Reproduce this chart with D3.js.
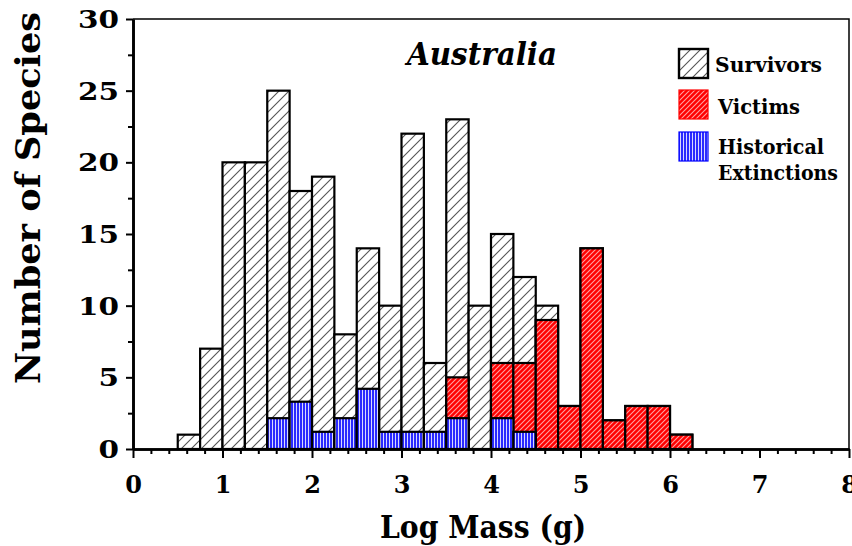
<!DOCTYPE html>
<html>
<head>
<meta charset="utf-8">
<script src="https://cdn.jsdelivr.net/npm/d3@7"></script>
<style>
  html, body { margin: 0; padding: 0; background: #fff; }
  svg { display: block; }
  text { font-family: "DejaVu Serif", "Liberation Serif", serif; font-weight: bold; fill: #000; }
</style>
</head>
<body>
<div id="chart"></div>
<script>
// ---- data ----
const binStarts = [0.5, 0.75, 1.0, 1.25, 1.5, 1.75, 2.0, 2.25, 2.5, 2.75, 3.0, 3.25, 3.5, 3.75, 4.0, 4.25, 4.5, 4.75, 5.0, 5.25, 5.5, 5.75, 6.0];
const binWidth = 0.25;
// total height of each bar (survivors + victims + historical)
const allSpecies = [1, 7, 20, 20, 25, 18, 19, 8, 14, 10, 22, 6, 23, 10, 15, 12, 10, 3, 14, 2, 3, 3, 1];
// height of red (victims) layer, drawn from zero
const victims =    [0, 0, 0, 0, 0, 0, 0, 0, 0, 0, 0, 0, 5, 0, 6, 6, 9, 3, 14, 2, 3, 3, 1];
// height of blue (historical extinctions) layer, drawn from zero
const historical = [0, 0, 0, 0, 2.15, 3.3, 1.2, 2.15, 4.2, 1.2, 1.2, 1.2, 2.15, 0, 2.15, 1.2, 0, 0, 0, 0, 0, 0, 0];

const xMajorTicks = [0, 1, 2, 3, 4, 5, 6, 7, 8];
const xMinorTicks = [0.2,0.4,0.6,0.8,1.2,1.4,1.6,1.8,2.2,2.4,2.6,2.8,3.2,3.4,3.6,3.8,4.2,4.4,4.6,4.8,5.2,5.4,5.6,5.8,6.2,6.4,6.6,6.8,7.2,7.4,7.6,7.8];
const yMajorTicks = [0, 5, 10, 15, 20, 25, 30];
const yMinorTicks = [2.5, 7.5, 12.5, 17.5, 22.5, 27.5];
const legendLabels = ["Survivors", "Victims", ["Historical", "Extinctions"]];
const titleText = "Australia";
const xTitle = "Log Mass (g)";
const yTitle = "Number of Species";

// ---- layout ----
const W = 852, H = 546;
const L = 133, R = 849, T = 19, B = 449;

const svg = d3.select("#chart").append("svg").attr("width", W).attr("height", H);
const defs = svg.append("defs");

// patterns
const pSurv = defs.append("pattern").attr("id", "pSurv").attr("patternUnits", "userSpaceOnUse")
  .attr("width", 10).attr("height", 10);
pSurv.append("rect").attr("width", 10).attr("height", 10).attr("fill", "#fff");
pSurv.append("path").attr("d", "M-2,2 L2,-2 M0,10 L10,0 M8,12 L12,8")
  .attr("stroke", "#555").attr("stroke-width", 1.1);

const pVict = defs.append("pattern").attr("id", "pVict").attr("patternUnits", "userSpaceOnUse")
  .attr("width", 5).attr("height", 5);
pVict.append("rect").attr("width", 5).attr("height", 5).attr("fill", "#ff0000");
pVict.append("path").attr("d", "M-1,1 L1,-1 M0,5 L5,0 M4,6 L6,4")
  .attr("stroke", "#ffa0a0").attr("stroke-width", 1.1);

const pHist = defs.append("pattern").attr("id", "pHist").attr("patternUnits", "userSpaceOnUse")
  .attr("width", 3).attr("height", 10);
pHist.append("rect").attr("width", 3).attr("height", 10).attr("fill", "#2a2aff");
pHist.append("rect").attr("x", 2).attr("width", 1).attr("height", 10).attr("fill", "#d8d8ff");

const x = d3.scaleLinear().domain([0, 8]).range([L, R]);
const y = d3.scaleLinear().domain([0, 30]).range([B, T]);

const bins = binStarts.map((s, i) => ({ s, all: allSpecies[i], vic: victims[i], his: historical[i] }));

const g = svg.append("g");
function drawLayer(key, fill) {
  g.append("g").selectAll("rect").data(bins.filter(d => d[key] > 0)).join("rect")
    .attr("x", d => x(d.s))
    .attr("width", d => x(d.s + binWidth) - x(d.s))
    .attr("y", d => y(d[key]))
    .attr("height", d => y(0) - y(d[key]))
    .attr("fill", fill)
    .attr("stroke", "#000").attr("stroke-width", 2.2);
}
drawLayer("all", "url(#pSurv)");
drawLayer("vic", "url(#pVict)");
drawLayer("his", "url(#pHist)");

// frame (top/right)
svg.append("path").attr("d", `M${L},${T} H${R} V${B}`).attr("fill", "none")
  .attr("stroke", "#000").attr("stroke-width", 1.5);

// axes
const xMaj = svg.append("g").attr("transform", `translate(0,${B})`)
  .call(d3.axisBottom(x).tickValues(xMajorTicks).tickSize(9).tickSizeOuter(0).tickFormat(d3.format("d")));
const xMin = svg.append("g").attr("transform", `translate(0,${B})`)
  .call(d3.axisBottom(x).tickValues(xMinorTicks).tickSize(5).tickSizeOuter(0).tickFormat(""));
const yMaj = svg.append("g").attr("transform", `translate(${L},0)`)
  .call(d3.axisLeft(y).tickValues(yMajorTicks).tickSize(7).tickSizeOuter(0).tickFormat(d3.format("d")));
const yMin = svg.append("g").attr("transform", `translate(${L},0)`)
  .call(d3.axisLeft(y).tickValues(yMinorTicks).tickSize(5).tickSizeOuter(0).tickFormat(""));
[xMaj, xMin, yMaj, yMin].forEach(a => {
  a.select(".domain").attr("stroke", "#000").attr("stroke-width", 2.6);
  a.selectAll(".tick line").attr("stroke", "#000").attr("stroke-width", 2);
});
xMaj.selectAll(".tick text").attr("y", 44).attr("dy", null)
  .style("font-family", '"DejaVu Serif", serif').style("font-weight", "bold").style("font-size", "24px");
yMaj.selectAll(".tick text").attr("x", -14).attr("dy", "0.36em")
  .style("font-family", '"DejaVu Serif", serif').style("font-weight", "bold").style("font-size", "24px")
  .attr("textLength", d => String(d).length * 20.5).attr("lengthAdjust", "spacingAndGlyphs");

// titles
svg.append("text").attr("x", 482).attr("y", 65).attr("text-anchor", "middle")
  .style("font-style", "italic").style("font-size", "31px")
  .attr("textLength", 150).attr("lengthAdjust", "spacingAndGlyphs").text(titleText);
svg.append("text").attr("x", 483).attr("y", 538).attr("text-anchor", "middle")
  .style("font-size", "32px").attr("textLength", 206).attr("lengthAdjust", "spacingAndGlyphs").text(xTitle);
svg.append("text").attr("transform", "translate(40,198) rotate(-90)").attr("text-anchor", "middle")
  .style("font-size", "33px").attr("textLength", 372).attr("lengthAdjust", "spacingAndGlyphs").text(yTitle);

// legend
const legendFills = ["url(#pSurv)", "url(#pVict)", "url(#pHist)"];
const legendStroke = ["#000", "#ff0000", "#0000ff"];
const legendY = [49, 90, 132];
const legendTextW = [[107], [82], [106, 120]];
const legendBase = [[72], [114], [154, 180]];
legendLabels.forEach((lab, i) => {
  svg.append("rect").attr("x", 679).attr("y", legendY[i]).attr("width", 29).attr("height", 29)
    .attr("fill", legendFills[i]).attr("stroke", legendStroke[i]).attr("stroke-width", i === 0 ? 2.4 : 1.2);
  const lines = Array.isArray(lab) ? lab : [lab];
  lines.forEach((t, j) => {
    svg.append("text").attr("x", i === 0 ? 715 : 718).attr("y", legendBase[i][j])
      .style("font-size", "21px").attr("textLength", legendTextW[i][j]).attr("lengthAdjust", "spacingAndGlyphs").text(t);
  });
});
</script>
</body>
</html>
